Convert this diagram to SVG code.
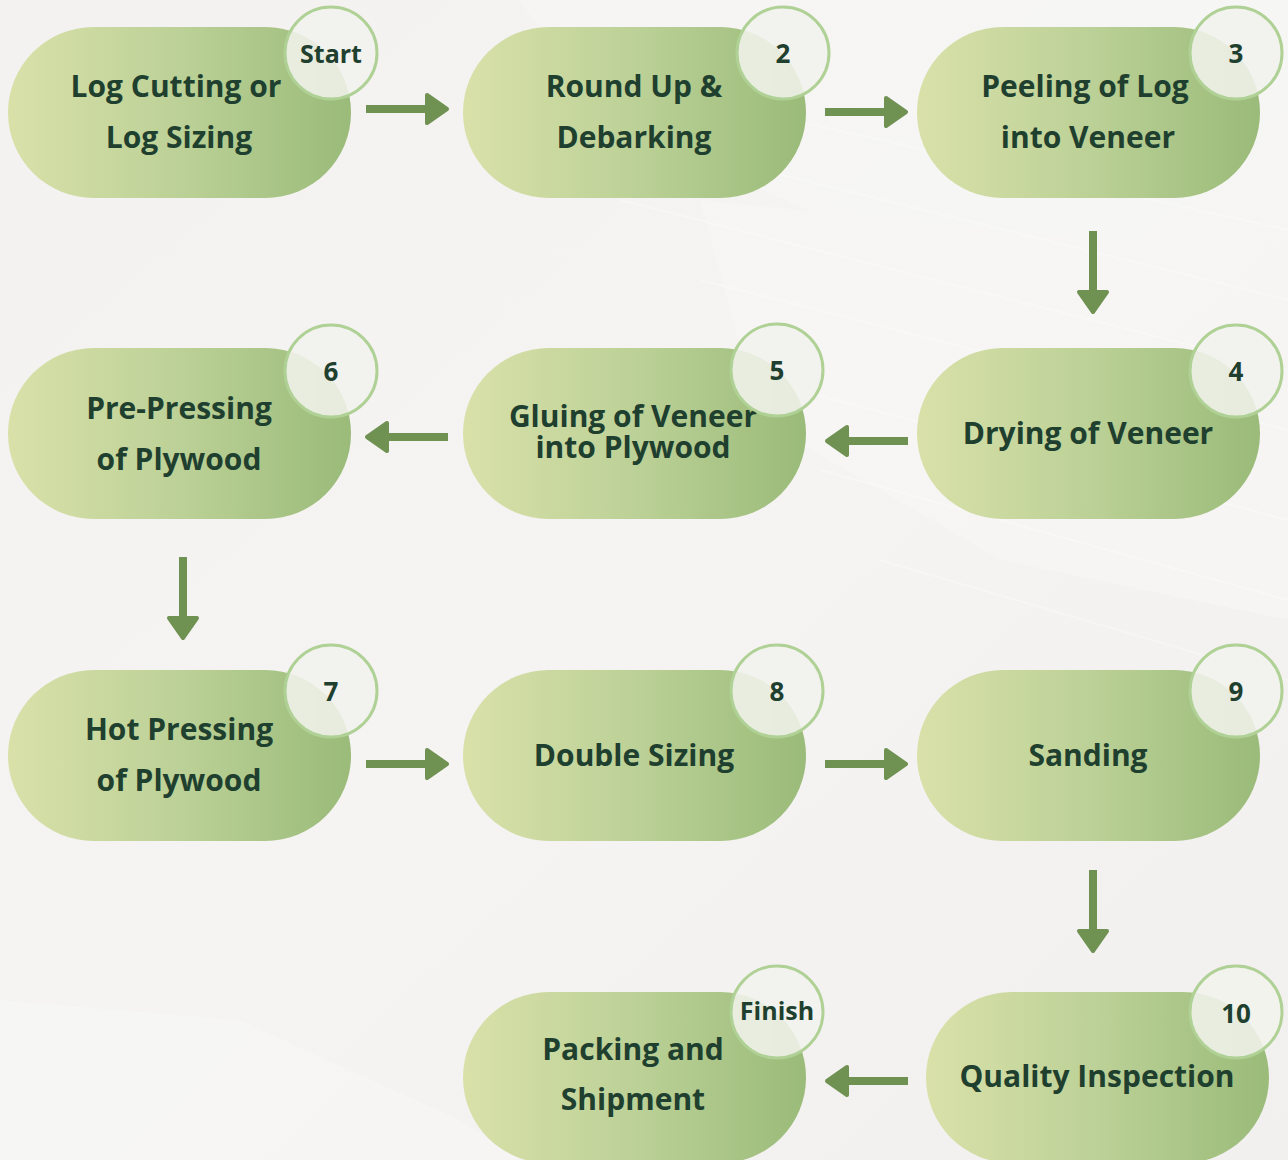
<svg xmlns="http://www.w3.org/2000/svg" width="1288" height="1160" viewBox="0 0 1288 1160">
  <defs>
    <linearGradient id="bg" x1="0" y1="0" x2="1" y2="1">
      <stop offset="0" stop-color="#f3f2f0"/>
      <stop offset="0.5" stop-color="#f5f4f2"/>
      <stop offset="1" stop-color="#f2f0ee"/>
    </linearGradient>
    <linearGradient id="pill" x1="0" y1="0" x2="1" y2="0">
      <stop offset="0" stop-color="#d9e1a9"/>
      <stop offset="0.5" stop-color="#bcd197"/>
      <stop offset="1" stop-color="#9abb79"/>
    </linearGradient>
    <g id="arrow">
      <rect x="0" y="-4" width="62" height="8" fill="#6f9152"/>
      <polygon points="61,-14 81,0 61,14" fill="#6f9152" stroke="#6f9152" stroke-width="4" stroke-linejoin="round"/>
    </g>
    <style>
      .pill { fill: url(#pill); }
      .badge { fill: #f1f2ed; fill-opacity: 0.88; stroke: #b0d195; stroke-width: 3; }
      .lbl { font-family: "Open Sans", "Noto Sans", "Liberation Sans", sans-serif; font-weight: 700; font-size: 30px; fill: #1f3f2f; text-anchor: middle; }
      .num { font-family: "Open Sans", "Noto Sans", "Liberation Sans", sans-serif; font-weight: 700; font-size: 26px; fill: #1f3f2f; text-anchor: middle; }
      .tag { font-family: "Open Sans", "Noto Sans", "Liberation Sans", sans-serif; font-weight: 700; font-size: 25px; fill: #1f3f2f; text-anchor: middle; }
    </style>
  </defs>

  <!-- background -->
  <rect x="0" y="0" width="1288" height="1160" fill="url(#bg)"/>
  <g opacity="0.5">
    <polygon points="520,0 1288,0 1288,330 900,250 600,120" fill="#f8f8f6"/>
    <polygon points="700,200 1288,260 1288,620 1000,560 760,420" fill="#f9f8f7"/>
    <polygon points="0,1000 240,1020 460,1120 520,1160 0,1160" fill="#f8f7f5"/>
  </g>
  <g stroke="#ffffff" stroke-width="2" opacity="0.3" fill="none">
    <path d="M520 60 L1288 230"/>
    <path d="M560 120 L1288 300"/>
    <path d="M620 200 L1288 370"/>
    <path d="M700 280 L1288 430"/>
    <path d="M760 380 L1288 520"/>
    <path d="M820 470 L1288 600"/>
    <path d="M880 560 L1288 680"/>
  </g>

  <!-- connectors -->
  <g id="connectors">
    <use href="#arrow" transform="translate(366,109)"/>
    <use href="#arrow" transform="translate(825,112)"/>
    <use href="#arrow" transform="translate(1093,231) rotate(90)"/>
    <use href="#arrow" transform="translate(908,441) rotate(180)"/>
    <use href="#arrow" transform="translate(448,437) rotate(180)"/>
    <use href="#arrow" transform="translate(183,557) rotate(90)"/>
    <use href="#arrow" transform="translate(366,764)"/>
    <use href="#arrow" transform="translate(825,764)"/>
    <use href="#arrow" transform="translate(1093,870) rotate(90)"/>
    <use href="#arrow" transform="translate(908,1081) rotate(180)"/>
  </g>

  <g id="node1">
    <rect class="pill" x="8" y="27" width="343" height="171" rx="85.5"/>
    <text class="lbl" x="176" y="97">Log Cutting or</text>
    <text class="lbl" x="179" y="148">Log Sizing</text>
    <circle class="badge" cx="331" cy="53" r="46"/>
    <text class="tag" x="331" y="63">Start</text>
  </g>
  <g id="node2">
    <rect class="pill" x="463" y="27" width="343" height="171" rx="85.5"/>
    <text class="lbl" x="634" y="97">Round Up &amp;</text>
    <text class="lbl" x="634" y="148">Debarking</text>
    <circle class="badge" cx="783" cy="53" r="46"/>
    <text class="num" x="783" y="63">2</text>
  </g>
  <g id="node3">
    <rect class="pill" x="917" y="27" width="343" height="171" rx="85.5"/>
    <text class="lbl" x="1085" y="97">Peeling of Log</text>
    <text class="lbl" x="1088" y="148">into Veneer</text>
    <circle class="badge" cx="1236" cy="53" r="46"/>
    <text class="num" x="1236" y="63">3</text>
  </g>
  <g id="node4">
    <rect class="pill" x="917" y="348" width="343" height="171" rx="85.5"/>
    <text class="lbl" x="1088" y="444">Drying of Veneer</text>
    <circle class="badge" cx="1236" cy="371" r="46"/>
    <text class="num" x="1236" y="381">4</text>
  </g>
  <g id="node5">
    <rect class="pill" x="463" y="348" width="343" height="171" rx="85.5"/>
    <text class="lbl" x="633" y="427">Gluing of Veneer</text>
    <text class="lbl" x="633" y="458">into Plywood</text>
    <circle class="badge" cx="777" cy="370" r="46"/>
    <text class="num" x="777" y="380">5</text>
  </g>
  <g id="node6">
    <rect class="pill" x="8" y="348" width="343" height="171" rx="85.5"/>
    <text class="lbl" x="179" y="419">Pre-Pressing</text>
    <text class="lbl" x="179" y="470">of Plywood</text>
    <circle class="badge" cx="331" cy="371" r="46"/>
    <text class="num" x="331" y="381">6</text>
  </g>
  <g id="node7">
    <rect class="pill" x="8" y="670" width="343" height="171" rx="85.5"/>
    <text class="lbl" x="179" y="740">Hot Pressing</text>
    <text class="lbl" x="179" y="791">of Plywood</text>
    <circle class="badge" cx="331" cy="691" r="46"/>
    <text class="num" x="331" y="701">7</text>
  </g>
  <g id="node8">
    <rect class="pill" x="463" y="670" width="343" height="171" rx="85.5"/>
    <text class="lbl" x="634" y="766">Double Sizing</text>
    <circle class="badge" cx="777" cy="691" r="46"/>
    <text class="num" x="777" y="701">8</text>
  </g>
  <g id="node9">
    <rect class="pill" x="917" y="670" width="343" height="171" rx="85.5"/>
    <text class="lbl" x="1088" y="766">Sanding</text>
    <circle class="badge" cx="1236" cy="691" r="46"/>
    <text class="num" x="1236" y="701">9</text>
  </g>
  <g id="node10">
    <rect class="pill" x="926" y="992" width="343" height="171" rx="85.5"/>
    <text class="lbl" x="1097" y="1087">Quality Inspection</text>
    <circle class="badge" cx="1236" cy="1012" r="46"/>
    <text class="num" x="1236" y="1023">10</text>
  </g>
  <g id="node11">
    <rect class="pill" x="463" y="992" width="343" height="171" rx="85.5"/>
    <text class="lbl" x="633" y="1060">Packing and</text>
    <text class="lbl" x="633" y="1110">Shipment</text>
    <circle class="badge" cx="777" cy="1012" r="46"/>
    <text class="tag" x="777" y="1020">Finish</text>
  </g>
</svg>
